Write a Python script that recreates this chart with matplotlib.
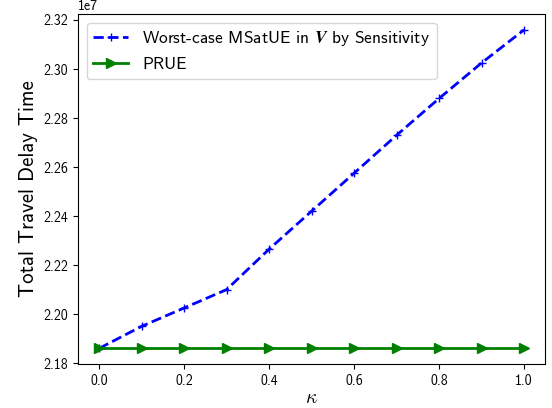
import matplotlib
matplotlib.use('Agg')

import matplotlib.pyplot as plt
import numpy as np

# datos
kappa = [0.0, 0.1, 0.2, 0.3, 0.4, 0.5, 0.6, 0.7, 0.8, 0.9, 1.0]
msatue = [2.186, 2.195, 2.2025, 2.210, 2.2265, 2.242, 2.2575, 2.273, 2.288, 2.3025, 2.316]
prue = [2.186] * len(kappa)
escala = 1e7

plt.rcParams['font.family'] = ['cmss10', 'DejaVu Sans']
plt.rcParams['mathtext.fontset'] = 'cm'
plt.rcParams['axes.formatter.use_mathtext'] = False

fig, ax = plt.subplots(figsize=(5.52, 4.08), dpi=100)
ax.plot(kappa, np.array(msatue) * escala, 'b--+', lw=2, ms=6,
        label=r'Worst-case MSatUE in $\boldsymbol{V}$ by Sensitivity')
ax.plot(kappa, np.array(prue) * escala, 'g->', lw=2, ms=7, label='PRUE')
ax.set_xlabel(r'$\kappa$', fontsize=14, labelpad=1)
ax.set_ylabel('Total Travel Delay Time', fontsize=15)
ax.legend(loc='upper left', fontsize=12.5)
fig.subplots_adjust(left=0.141, right=0.988, top=0.966, bottom=0.107)
fig.savefig('out.png')
